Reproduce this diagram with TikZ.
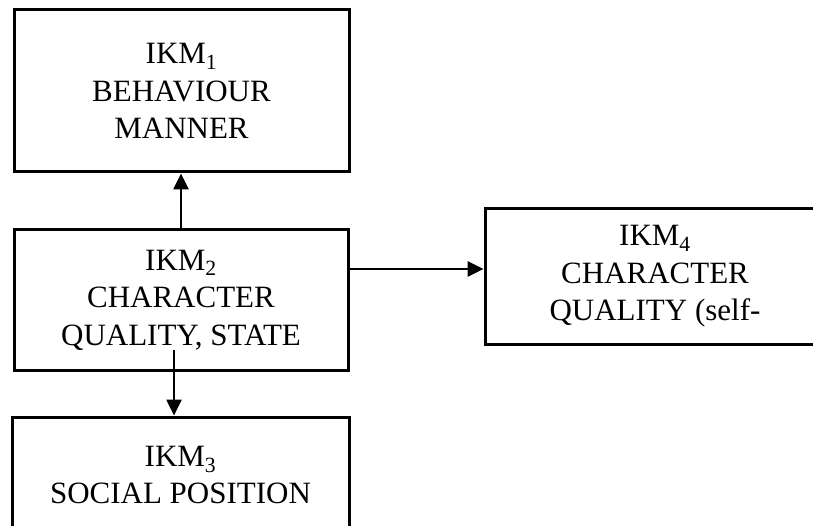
\documentclass[tikz,border=0pt]{standalone}
\usepackage{fontspec}
\setmainfont{Liberation Serif}
\usetikzlibrary{arrows.meta}

\tikzset{
  ikmbox/.style={draw, line width=3pt, rectangle, inner sep=0pt, align=center,
    font=\fontsize{31pt}{37.5pt}\selectfont},
  ikmarrow/.style={line width=2.6pt, -{Triangle[length=16pt,width=15pt]}}
}

\begin{document}
\begin{tikzpicture}[x=1pt,y=-1pt,line cap=rect]
  \useasboundingbox (0,0) rectangle (813,526);
  \clip (0,0) rectangle (813,526);
  % the four boxes
  \node[ikmbox, minimum width=335pt, minimum height=162pt] (behaviour) at (181.5,91)
    {IKM\textsubscript{1}\\BEHAVIOUR\\MANNER};
  \node[ikmbox, minimum width=334pt, minimum height=140pt] (character) at (181,300)
    {IKM\textsubscript{2}\\CHARACTER\\QUALITY, STATE};
  \node[ikmbox, minimum width=337pt, minimum height=116pt] (social) at (180.5,475)
    {IKM\textsubscript{3}\\SOCIAL POSITION};
  \node[ikmbox, minimum width=340pt, minimum height=135pt] (self) at (655,276.5)
    {IKM\textsubscript{4}\\CHARACTER\\QUALITY (self-};
  % connectors
  \draw[ikmarrow] (character.north) -- (character.north |- behaviour.south);
  \draw[ikmarrow] ([yshift=31pt]character.east) -- ([yshift=31pt]character.east -| self.west);
  \draw[ikmarrow] ([xshift=-7pt,yshift=20pt]character.south) -- ([xshift=-7pt]character.south |- social.north);
\end{tikzpicture}
\end{document}
